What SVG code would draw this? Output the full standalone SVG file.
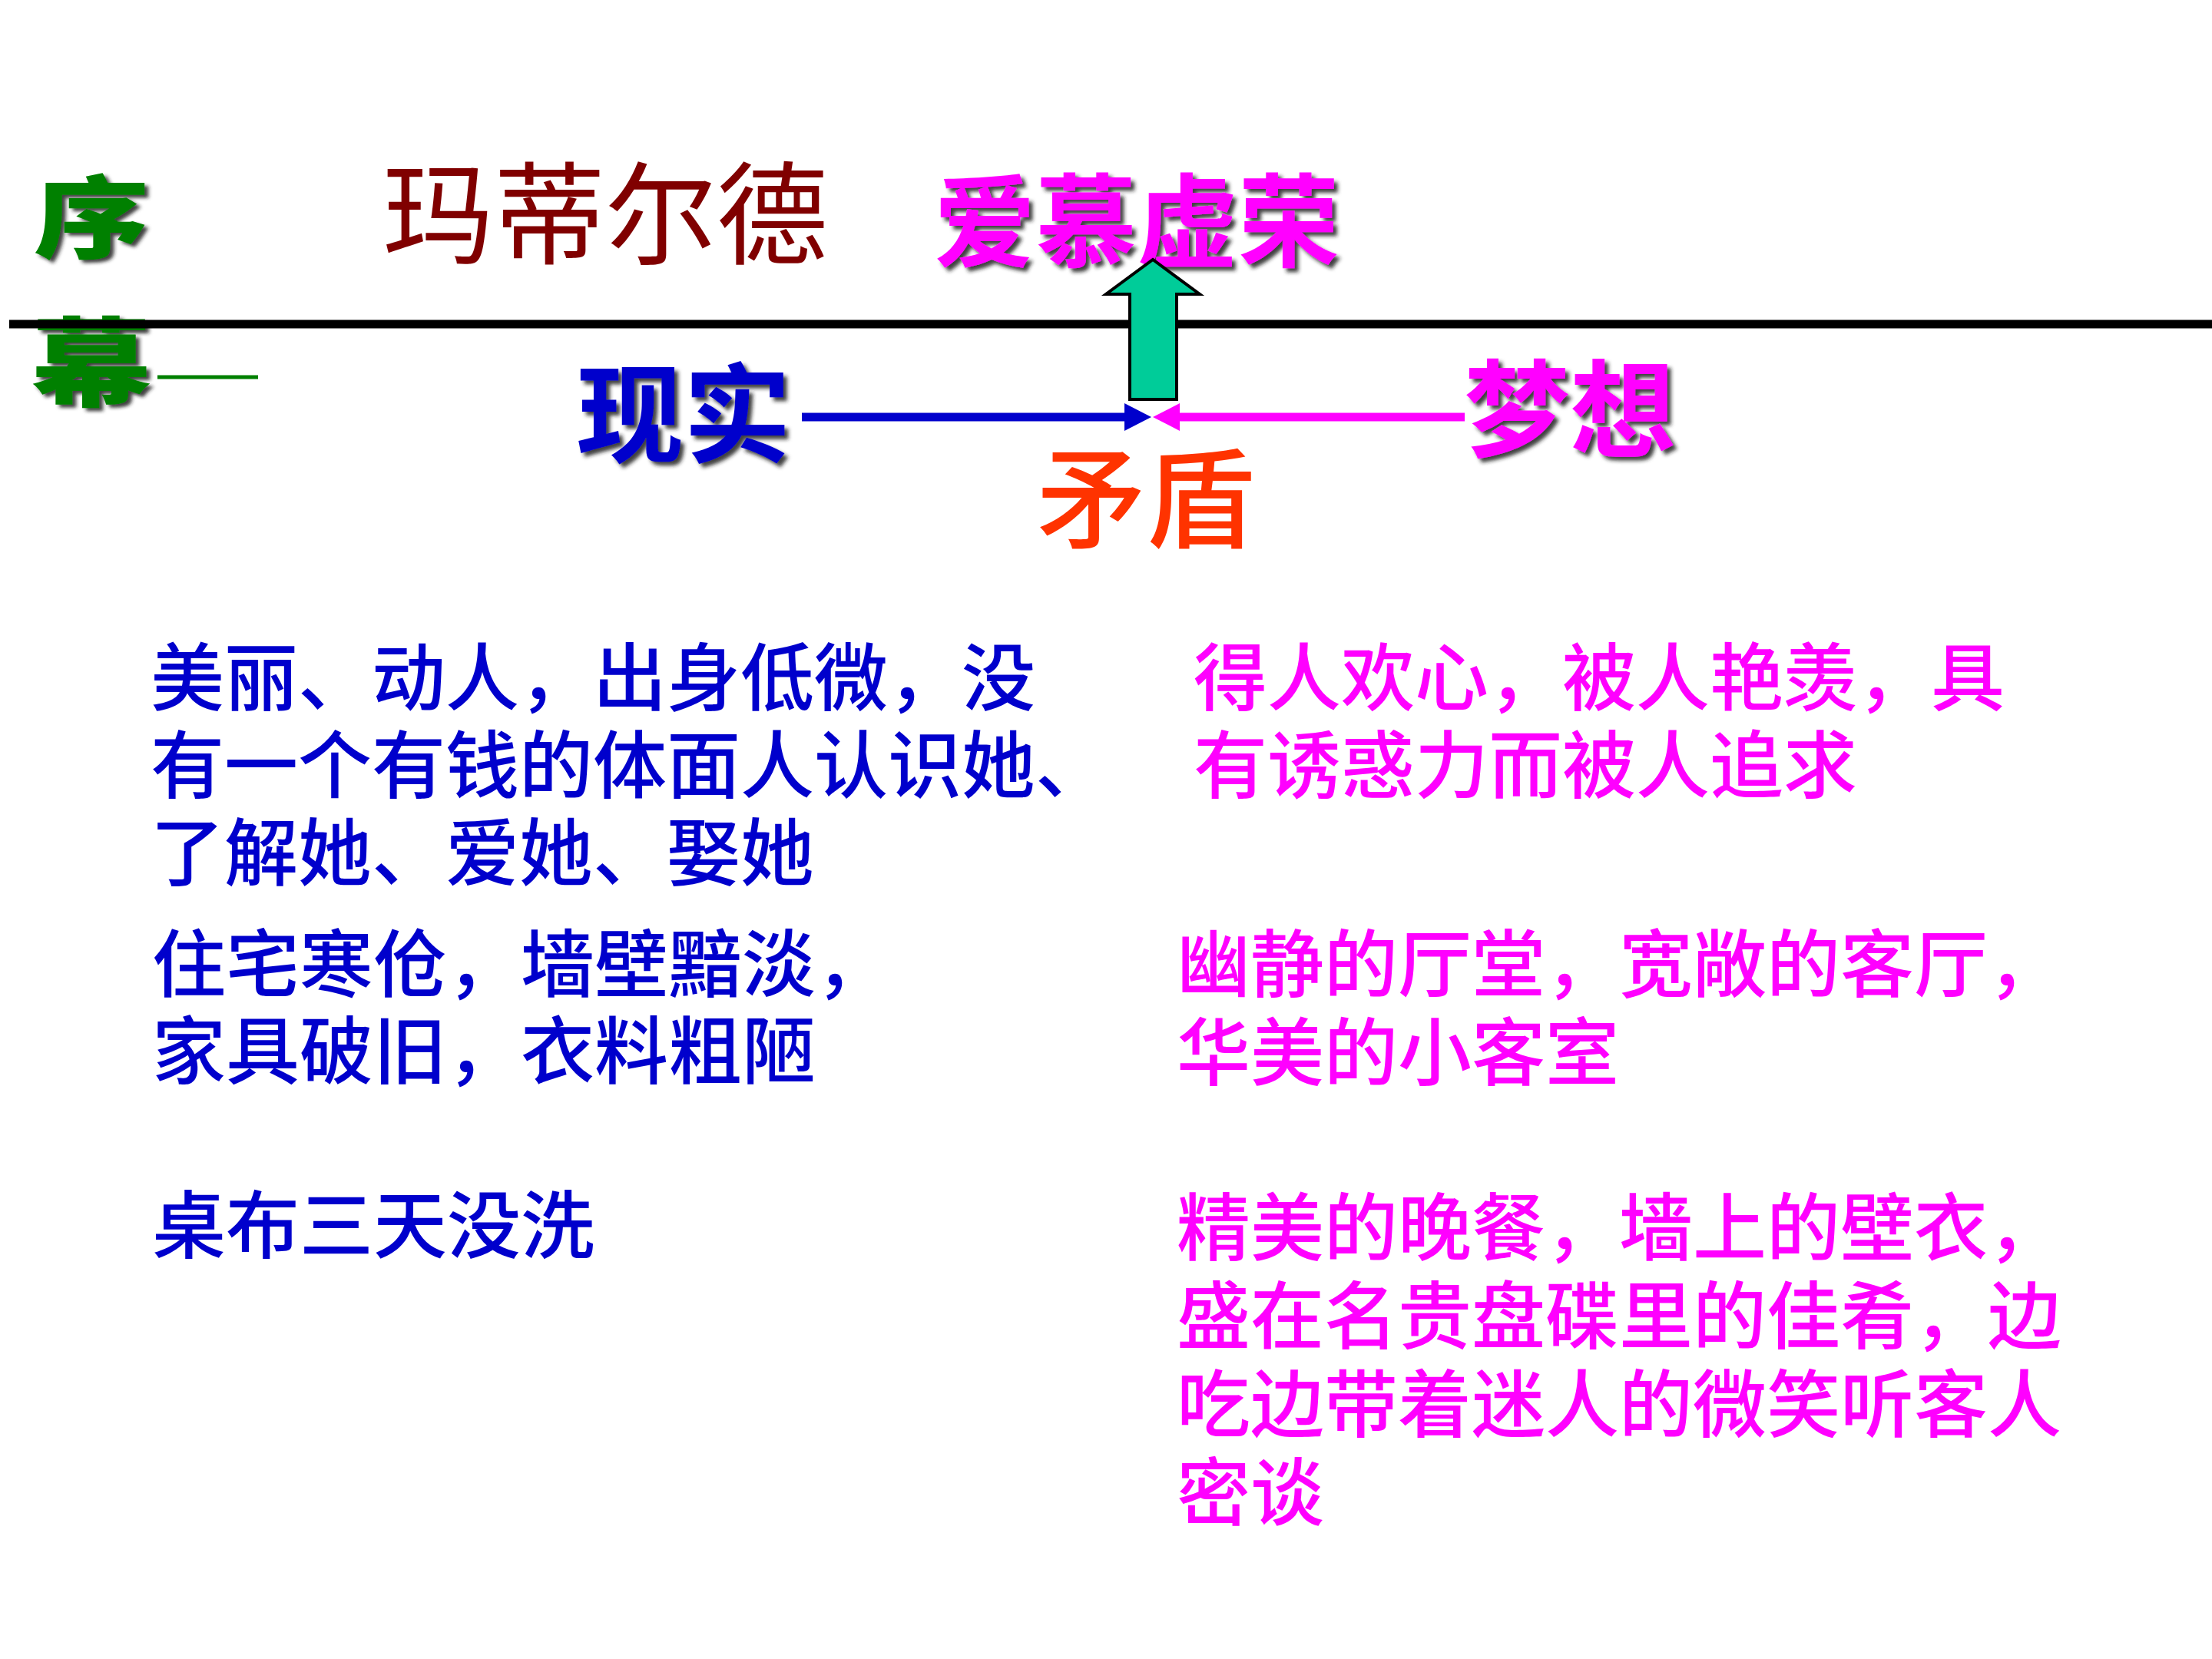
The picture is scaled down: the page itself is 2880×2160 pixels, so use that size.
<svg xmlns="http://www.w3.org/2000/svg" width="2880" height="2160" viewBox="0 0 2880 2160">
<defs>
<style>
text{font-family:"Noto Sans CJK SC","Noto Sans CJK TC",sans-serif;}
.body{font-size:96px;font-weight:500;}
.blue{fill:#0000CC;}
.mag{fill:#FF00FF;}
.big{font-weight:700;}
.shadow{filter:url(#sh);}
.xm{font-weight:900;fill:#008000;}
</style>
<filter id="sh" x="-10%" y="-10%" width="130%" height="130%">
<feDropShadow dx="5" dy="5" stdDeviation="2.5" flood-color="#222" flood-opacity="0.85"/>
</filter>
<marker id="ahBlue" viewBox="0 0 36 36" refX="2" refY="18" markerWidth="36" markerHeight="36" markerUnits="userSpaceOnUse" orient="auto">
<path d="M0,0 L35,18 L0,36 Z" fill="#0000CC"/>
</marker>
<marker id="ahMag" viewBox="0 0 36 36" refX="2" refY="18" markerWidth="36" markerHeight="36" markerUnits="userSpaceOnUse" orient="auto">
<path d="M0,0 L35,18 L0,36 Z" fill="#FF00FF"/>
</marker>
</defs>
<rect width="2880" height="2160" fill="#FFFFFF"/>

<g id="xumu">
<text transform="translate(44,327) scale(1,0.78)" font-size="150" class="xm shadow">序</text>
<text transform="translate(40,519) scale(1,0.8)" font-size="158" class="xm shadow">幕</text>
<line x1="205" y1="491" x2="336" y2="491" stroke="#008000" stroke-width="5"/>
</g>

<g id="divider">
<line x1="12" y1="422" x2="2880" y2="422" stroke="#000000" stroke-width="11"/>
</g>

<g id="title">
<text x="498" y="333" font-size="145" font-weight="400" fill="#800000">玛蒂尔德</text>
</g>

<g id="aimuxurong">
<text x="1216" y="337" font-size="132" class="big mag shadow">爱慕虚荣</text>
</g>

<g id="xianshi">
<text x="750" y="591" font-size="140" class="big blue shadow">现实</text>
</g>

<g id="mengxiang">
<text x="1906" y="584" font-size="138" class="big mag shadow">梦想</text>
</g>

<g id="maodun">
<text x="1350" y="702" font-size="142" font-weight="500" fill="#FF3300">矛盾</text>
</g>

<g id="connectors">
<line x1="1044" y1="543" x2="1466" y2="543" stroke="#0000CC" stroke-width="11" marker-end="url(#ahBlue)"/>
<line x1="1907" y1="543" x2="1534" y2="543" stroke="#FF00FF" stroke-width="11" marker-end="url(#ahMag)"/>
<polygon points="1471,520 1532,520 1532,383 1562,383 1501,338 1440,383 1471,383" fill="#00CC99" stroke="#000000" stroke-width="4" stroke-linejoin="miter"/>
</g>

<g id="reality1" class="body blue">
<text x="196" y="917">美丽、动人，出身低微，没</text>
<text x="196" y="1031">有一个有钱的体面人认识她、</text>
<text x="196" y="1145">了解她、爱她、娶她</text>
</g>
<g id="reality2" class="body blue">
<text x="198" y="1290">住宅寒伧，墙壁黯淡，</text>
<text x="198" y="1403">家具破旧，衣料粗陋</text>
</g>
<g id="reality3" class="body blue">
<text x="198" y="1630">桌布三天没洗</text>
</g>

<g id="dream1" class="body mag">
<text x="1554" y="917">得人欢心，被人艳羡，具</text>
<text x="1554" y="1031">有诱惑力而被人追求</text>
</g>
<g id="dream2" class="body mag">
<text x="1532" y="1290">幽静的厅堂，宽敞的客厅，</text>
<text x="1532" y="1405">华美的小客室</text>
</g>
<g id="dream3" class="body mag">
<text x="1532" y="1633">精美的晚餐，墙上的壁衣，</text>
<text x="1532" y="1748">盛在名贵盘碟里的佳肴，边</text>
<text x="1532" y="1863">吃边带着迷人的微笑听客人</text>
<text x="1532" y="1978">密谈</text>
</g>
</svg>
